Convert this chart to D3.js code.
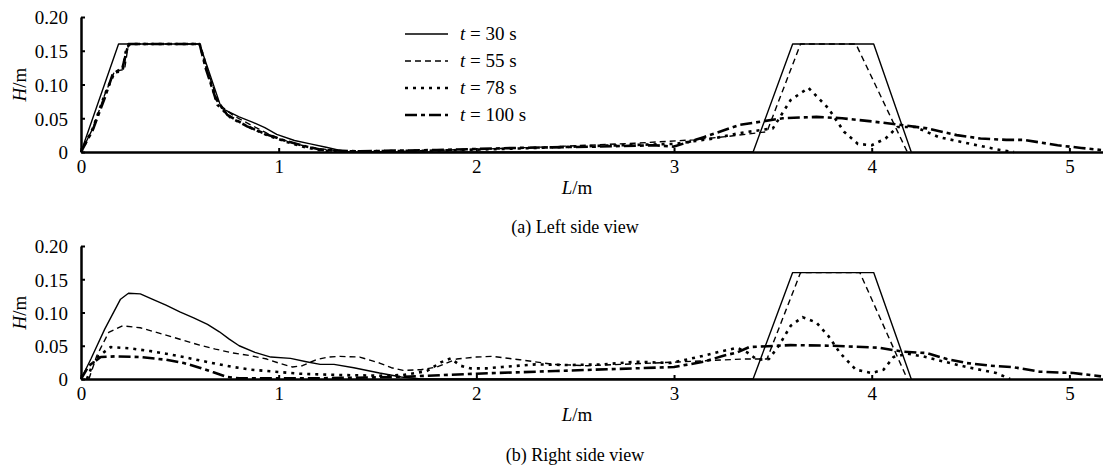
<!DOCTYPE html>
<html>
<head>
<meta charset="utf-8">
<script src="https://cdn.jsdelivr.net/npm/d3@7"></script>
<style>
  html, body { margin: 0; padding: 0; background: #fff; }
  svg { display: block; }
  text { font-family: "Liberation Serif", "Times New Roman", serif; fill: #000; }
</style>
</head>
<body>
<svg id="chart" width="1103" height="466"></svg>
<script>
// Axis ticks
const xTicks = [0, 1, 2, 3, 4, 5];
const yTicks = [0, 0.05, 0.10, 0.15, 0.20];

// Series names (times of the snapshots)
const seriesTimes = ["30", "55", "78", "100"];

// (a) Left side view: [L (m), H (m)]
const left30 = [[0,0],[0.19,0.16],[0.60,0.16],[0.71,0.065],[0.80,0.052],[0.87,0.044],[0.93,0.036],[0.99,0.026],[1.08,0.017],[1.16,0.012],[1.24,0.007],[1.30,0.003],[1.36,0],[3.40,0],[3.60,0.16],[4.01,0.16],[4.20,0]];
const left55 = [[0,0],[0.06,0.035],[0.12,0.085],[0.17,0.12],[0.22,0.122],[0.24,0.16],[0.60,0.16],[0.64,0.12],[0.70,0.07],[0.77,0.054],[0.86,0.04],[0.94,0.028],[1.02,0.018],[1.10,0.011],[1.20,0.005],[1.30,0.002],[1.40,0],[1.60,0.001],[2.0,0.004],[2.4,0.008],[2.8,0.013],[3.1,0.018],[3.30,0.024],[3.47,0.03],[3.64,0.16],[3.92,0.16],[4.18,0]];
const left78 = [[0,0],[0.06,0.035],[0.12,0.085],[0.17,0.118],[0.21,0.12],[0.23,0.155],[0.25,0.16],[0.60,0.16],[0.63,0.13],[0.69,0.07],[0.76,0.05],[0.85,0.037],[0.94,0.025],[1.04,0.015],[1.12,0.008],[1.20,0.003],[1.28,0.001],[1.40,0.001],[1.8,0.002],[2.2,0.005],[2.6,0.009],[3.0,0.012],[3.2,0.02],[3.33,0.028],[3.50,0.035],[3.59,0.077],[3.68,0.095],[3.78,0.065],[3.86,0.03],[3.93,0.012],[4.0,0.01],[4.07,0.02],[4.13,0.037],[4.22,0.037],[4.34,0.022],[4.50,0.012],[4.65,0.003],[4.72,0]];
const left100 = [[0,0],[0.06,0.033],[0.12,0.08],[0.16,0.115],[0.21,0.125],[0.24,0.16],[0.60,0.16],[0.63,0.125],[0.68,0.08],[0.74,0.055],[0.84,0.038],[0.94,0.026],[1.04,0.016],[1.14,0.008],[1.22,0.003],[1.40,0.001],[1.8,0.003],[2.2,0.006],[2.6,0.008],[2.9,0.01],[3.0,0.008],[3.15,0.022],[3.33,0.04],[3.55,0.05],[3.72,0.052],[3.85,0.05],[4.01,0.045],[4.15,0.04],[4.28,0.035],[4.43,0.025],[4.55,0.02],[4.68,0.018],[4.77,0.018],[4.94,0.01],[5.06,0.006],[5.16,0.003]];

// (b) Right side view: [L (m), H (m)]
const right30 = [[0,0],[0.05,0.03],[0.12,0.075],[0.20,0.12],[0.24,0.129],[0.30,0.128],[0.36,0.12],[0.43,0.111],[0.50,0.101],[0.57,0.092],[0.64,0.082],[0.70,0.071],[0.75,0.06],[0.80,0.05],[0.88,0.04],[0.96,0.033],[1.06,0.031],[1.14,0.026],[1.21,0.022],[1.28,0.022],[1.38,0.017],[1.51,0.009],[1.62,0.003],[1.72,0],[3.40,0],[3.60,0.16],[4.01,0.16],[4.20,0]];
const right55 = [[0.04,0],[0.08,0.035],[0.14,0.07],[0.21,0.08],[0.30,0.077],[0.43,0.066],[0.52,0.058],[0.60,0.051],[0.68,0.045],[0.77,0.039],[0.86,0.035],[0.94,0.03],[1.00,0.024],[1.07,0.018],[1.12,0.02],[1.19,0.029],[1.25,0.033],[1.31,0.034],[1.41,0.033],[1.51,0.024],[1.57,0.017],[1.63,0.013],[1.72,0.014],[1.80,0.018],[1.90,0.03],[2.00,0.033],[2.08,0.034],[2.22,0.029],[2.39,0.022],[2.56,0.02],[2.73,0.022],[2.90,0.024],[3.05,0.026],[3.2,0.028],[3.35,0.03],[3.47,0.03],[3.64,0.16],[3.94,0.16],[4.18,0]];
const right78 = [[0.03,0],[0.07,0.03],[0.15,0.048],[0.25,0.046],[0.35,0.042],[0.43,0.038],[0.52,0.033],[0.60,0.028],[0.68,0.023],[0.77,0.018],[0.86,0.014],[0.94,0.012],[1.02,0.01],[1.10,0.008],[1.30,0.006],[1.51,0.005],[1.63,0.006],[1.75,0.012],[1.82,0.025],[1.87,0.031],[1.92,0.02],[1.97,0.016],[2.05,0.016],[2.13,0.018],[2.30,0.022],[2.47,0.021],[2.64,0.022],[2.81,0.026],[2.98,0.024],[3.06,0.029],[3.15,0.035],[3.23,0.041],[3.32,0.047],[3.37,0.04],[3.42,0.029],[3.48,0.03],[3.53,0.05],[3.59,0.08],[3.65,0.093],[3.72,0.085],[3.78,0.065],[3.84,0.039],[3.92,0.014],[4.0,0.009],[4.06,0.014],[4.11,0.033],[4.18,0.038],[4.26,0.034],[4.34,0.028],[4.48,0.018],[4.63,0.009],[4.70,0]];
const right100 = [[0,0],[0.04,0.02],[0.10,0.033],[0.17,0.034],[0.30,0.033],[0.43,0.029],[0.52,0.024],[0.60,0.017],[0.67,0.01],[0.74,0.003],[0.80,0.001],[1.2,0.001],[1.6,0.003],[2.0,0.008],[2.4,0.012],[2.8,0.016],[3.0,0.018],[3.15,0.026],[3.25,0.035],[3.32,0.04],[3.38,0.048],[3.59,0.051],[3.80,0.05],[4.04,0.047],[4.16,0.041],[4.28,0.039],[4.38,0.03],[4.48,0.024],[4.60,0.02],[4.71,0.018],[4.85,0.011],[5.02,0.009],[5.16,0.004]];

// Line styles for the four snapshots
const styles = [
  { width: 1.4, dash: null },
  { width: 1.4, dash: "6,4" },
  { width: 2.6, dash: "3,5" },
  { width: 2.6, dash: "12,4,4,4" }
];

const svg = d3.select("#chart");
svg.append("rect").attr("width", 1103).attr("height", 466).attr("fill", "#fff");

const FONT = 19;
const CAPTION_FONT = 18;
const x = d3.scaleLinear().domain([0, 5.17]).range([81, 1103]);

const panels = [
  { series: [left30, left55, left78, left100], bottom: 152, top: 17,
    caption: "(a) Left side view", captionY: 233, xLabelY: 194, legend: true },
  { series: [right30, right55, right78, right100], bottom: 379, top: 246,
    caption: "(b) Right side view", captionY: 461, xLabelY: 421, legend: false }
];

panels.forEach(p => {
  const y = d3.scaleLinear().domain([0, 0.20]).range([p.bottom, p.top]);
  const g = svg.append("g");

  // curves
  const line = d3.line().x(d => x(d[0])).y(d => y(d[1])).curve(d3.curveLinear);
  p.series.forEach((s, i) => {
    g.append("path")
      .datum(s)
      .attr("d", line)
      .attr("fill", "none")
      .attr("stroke", "#000")
      .attr("stroke-width", styles[i].width)
      .attr("stroke-dasharray", styles[i].dash)
      .attr("stroke-linejoin", "round");
  });

  // y axis
  const yAxis = d3.axisLeft(y).tickValues(yTicks)
    .tickSize(-4).tickSizeOuter(0).tickPadding(13)
    .tickFormat(d => d === 0 ? "0" : d.toFixed(2));
  const ya = g.append("g").attr("transform", "translate(81,0)").call(yAxis);

  // x axis
  const xAxis = d3.axisBottom(x).tickValues(xTicks)
    .tickSize(-4).tickSizeOuter(0).tickPadding(8)
    .tickFormat(d3.format("d"));
  const xa = g.append("g").attr("transform", `translate(0,${p.bottom})`).call(xAxis);

  [ya, xa].forEach(a => {
    a.select(".domain").attr("stroke", "#000").attr("stroke-width", 2.5);
    a.selectAll(".tick line").attr("stroke", "#000").attr("stroke-width", 2);
    a.selectAll(".tick text")
      .style("font-family", '"Liberation Serif", serif')
      .style("font-size", FONT + "px")
      .attr("fill", "#000");
  });
  ya.selectAll(".tick text").attr("dy", "0.36em");

  // axis titles
  const yl = svg.append("text")
    .attr("transform", `translate(26,${(p.top + p.bottom) / 2}) rotate(-90)`)
    .attr("text-anchor", "middle")
    .style("font-size", FONT + "px");
  yl.append("tspan").attr("font-style", "italic").text("H");
  yl.append("tspan").text("/m");

  const xl = svg.append("text")
    .attr("x", 577).attr("y", p.xLabelY)
    .attr("text-anchor", "middle")
    .style("font-size", FONT + "px");
  xl.append("tspan").attr("font-style", "italic").text("L");
  xl.append("tspan").text("/m");

  svg.append("text")
    .attr("x", 575).attr("y", p.captionY)
    .attr("text-anchor", "middle")
    .style("font-size", CAPTION_FONT + "px")
    .text(p.caption);

  // legend
  if (p.legend) {
    const lg = svg.append("g");
    seriesTimes.forEach((t, i) => {
      const cy = 34 + i * 27;
      lg.append("line")
        .attr("x1", 405).attr("x2", 448).attr("y1", cy).attr("y2", cy)
        .attr("stroke", "#000")
        .attr("stroke-width", styles[i].width)
        .attr("stroke-dasharray", styles[i].dash);
      const tx = lg.append("text").attr("x", 460).attr("y", cy + 6)
        .style("font-size", FONT + "px");
      tx.append("tspan").attr("font-style", "italic").text("t");
      tx.append("tspan").text(" = " + t + " s");
    });
  }
});
</script>
</body>
</html>
